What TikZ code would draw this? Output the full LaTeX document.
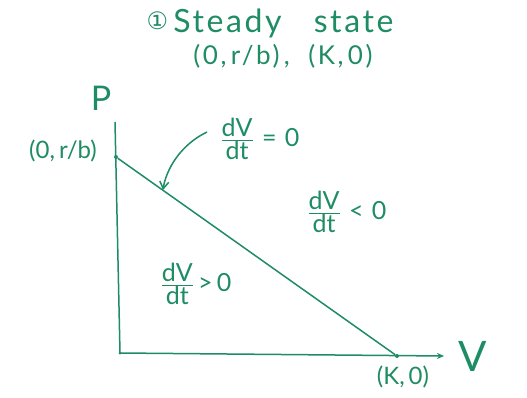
\documentclass[tikz,border=0pt]{standalone}
\usepackage{fontspec}
\setmainfont{Lato}
\usetikzlibrary{arrows.meta}
\definecolor{ink}{RGB}{30,140,100}
\newcommand{\dvdt}{\textstyle\frac{\mbox{dV}}{\mbox{dt}}}
\begin{document}
\begin{tikzpicture}[x=1pt,y=-1pt,
  ink/.style={draw=ink,line width=1.5pt},
  lbl/.style={text=ink,inner sep=0pt,font=\fontsize{24}{26}\selectfont},
  frac/.style={lbl,font=\fontsize{25}{27}\selectfont},
  dot/.style={circle,fill=ink,inner sep=0pt,minimum size=4pt}]
\useasboundingbox[fill=white] (0,0) rectangle (527,397);
% title
\node[lbl,font=\fontsize{32}{34}\selectfont\addfontfeature{LetterSpace=8}] (t1) at (270,23) {\raisebox{0.15ex}{\fontspec{DejaVu Sans}\fontsize{24}{26}\selectfont ①}\,Steady\ \ \ state};
\node[lbl,font=\fontsize{26}{28}\selectfont\addfontfeature{LetterSpace=10}] (t2) at (283,56) {(0,\,r/b)\,,\ \ (K,\,0)};
% axes
\coordinate (O) at (120,353);
\coordinate (Ptop) at (115,122);
\node[dot] (A) at (116,157) {};
\node[dot] (B) at (397,356) {};
\coordinate (Xend) at (444,356);
\draw[ink] (O) -- (Ptop);
\draw[ink,-{Stealth[length=7pt,width=6pt]}] (O) -- (Xend);
\draw[ink] (A) -- (B);
\node[dot,minimum size=3pt] (Od) at (O) {};
% axis labels
\node[lbl,font=\fontsize{34}{36}\selectfont] (P) at (101,98) {P};
\node[lbl,font=\fontsize{42}{44}\selectfont] (V) at (473,356) {V};
\node[lbl] (Ai) at (63,151) {(0,\,r/b)};
\node[lbl] (Ki) at (403,377) {(K,\,0)};
% region labels
\node[frac] (zero) at (260,139) {$\dvdt$\,\,=\,\,0};
\coordinate (tip) at (163,190);
\draw[ink,-{Straight Barb[length=7pt,width=9pt]}] (207,132) .. controls (180,145) and (166,170) .. (tip);
\node[frac] (neg) at (347,212) {$\dvdt$\,\,<\,\,0};
\node[frac] (pos) at (196,284) {$\dvdt$\,>\,0};
\end{tikzpicture}
\end{document}
